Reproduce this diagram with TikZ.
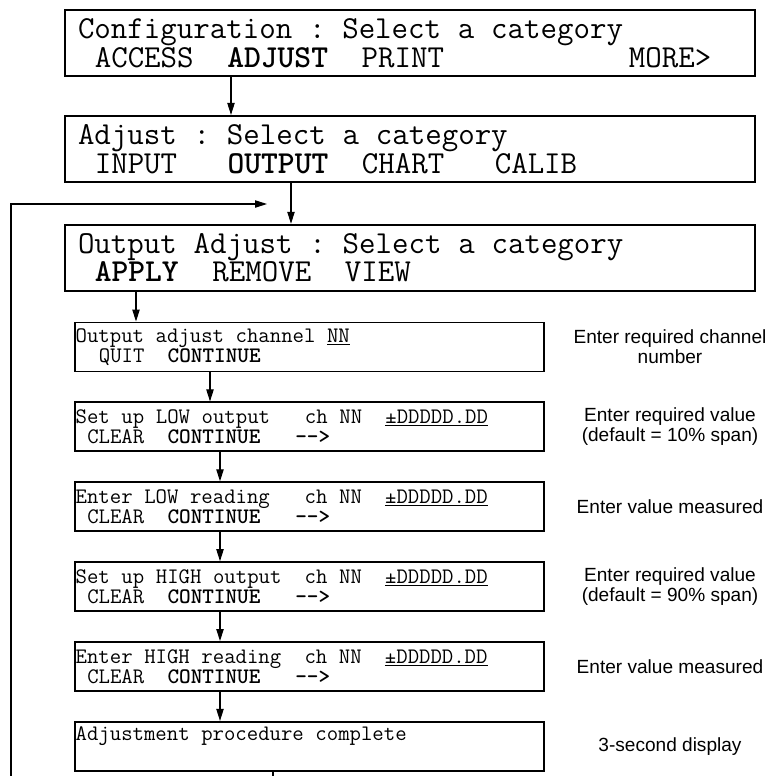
\documentclass[tikz,border=0pt]{standalone}
\usepackage{fontspec}
\setmainfont{Liberation Sans}
\usepackage{tikz}
\usetikzlibrary{arrows.meta,positioning}
\newcommand{\lcdspace}{\spaceskip=0.525em\xspaceskip=0.525em\relax}

\begin{document}
\begin{tikzpicture}[
  x=0.75pt, y=-0.75pt,
  bigbox/.style={draw, line width=1.4pt, minimum width=517.5pt, minimum height=49.5pt, text width=498pt, inner xsep=9.75pt, inner ysep=0pt, align=left, font=\ttfamily\fontsize{24}{19.5}\selectfont, execute at begin node=\lcdspace},
  smallbox/.style={draw, line width=1.4pt, minimum width=351.75pt, minimum height=36.75pt, text width=350.75pt, inner xsep=0.5pt, inner ysep=0pt, align=left, font=\ttfamily\fontsize{16.6}{15}\selectfont, execute at begin node=\lcdspace},
  note/.style={align=center, font=\fontsize{14.3}{15}\selectfont},
  link/.style={line width=0.8pt},
  >={Triangle[length=9pt, width=5.5pt]}
]
\useasboundingbox (0,0) rectangle (770,776);

% Menu screens
\node[bigbox] (config) at (410,43) {Configuration : Select a category\\~ACCESS~~\textbf{ADJUST}~~PRINT~~~~~~~~~~~MORE>};
\node[bigbox, below=28.5pt of config] (adjust) {Adjust : Select a category\\~INPUT~~~\textbf{OUTPUT}~~CHART~~~CALIB};
\node[bigbox, below=30.75pt of adjust] (outadj) {Output Adjust : Select a category\\~\textbf{APPLY}~~REMOVE~~VIEW};

% Adjustment steps
\node[smallbox] (chan) at (309.5,347) {Output adjust channel \underline{NN}\\~~QUIT~~\textbf{CONTINUE}};
\node[smallbox, below=21.75pt of chan] (lowset) {Set up LOW output~~~ch NN~~\underline{±DDDDD.DD}\\~CLEAR~~\textbf{CONTINUE}~~~\textbf{-\kern0pt-\kern0pt>}};
\node[smallbox, below=21.75pt of lowset] (lowread) {Enter LOW reading~~~ch NN~~\underline{±DDDDD.DD}\\~CLEAR~~\textbf{CONTINUE}~~~\textbf{-\kern0pt-\kern0pt>}};
\node[smallbox, below=21.75pt of lowread] (highset) {Set up HIGH output~~ch NN~~\underline{±DDDDD.DD}\\~CLEAR~~\textbf{CONTINUE}~~~\textbf{-\kern0pt-\kern0pt>}};
\node[smallbox, below=21.75pt of highset] (highread) {Enter HIGH reading~~ch NN~~\underline{±DDDDD.DD}\\~CLEAR~~\textbf{CONTINUE}~~~\textbf{-\kern0pt-\kern0pt>}};
\node[smallbox, below=21.75pt of highread] (done) {Adjustment procedure complete\\\strut};

% Notes
\coordinate (notecol) at (670,0);
\node[note] (n1) at (chan -| notecol) {Enter required channel\\number};
\node[note] (n2) at (lowset -| notecol) {Enter required value\\(default = 10\% span)};
\node[note] (n3) at (lowread -| notecol) {Enter value measured};
\node[note] (n4) at (highset -| notecol) {Enter required value\\(default = 90\% span)};
\node[note] (n5) at (highread -| notecol) {Enter value measured};
\node[note] (n6) at (done -| notecol) {3-second display};

% Flow
\coordinate (c1) at (231,0);
\coordinate (c2) at (291,0);
\coordinate (c3) at (136,0);
\coordinate (c4) at (210,0);
\coordinate (c5) at (220,0);
\draw[link,->] (config.south -| c1) -- (adjust.north -| c1);
\draw[link,->] (adjust.south -| c2) -- (outadj.north -| c2);
\draw[link,->] (outadj.south -| c3) -- (chan.north -| c3);
\draw[link,->] (chan.south -| c4) -- (lowset.north -| c4);
\draw[link,->] (lowset.south -| c5) -- (lowread.north -| c5);
\draw[link,->] (lowread.south -| c5) -- (highset.north -| c5);
\draw[link,->] (highset.south -| c5) -- (highread.north -| c5);
\draw[link,->] (highread.south -| c5) -- (done.north -| c5);

% Return path
\coordinate (exit) at (273,776);
\coordinate (loopstart) at (11,776);
\coordinate (loopend) at (267,204);
\draw[link] (done.south -| exit) -- (exit);
\draw[link,->] (loopstart) |- (loopend);
\end{tikzpicture}
\end{document}
